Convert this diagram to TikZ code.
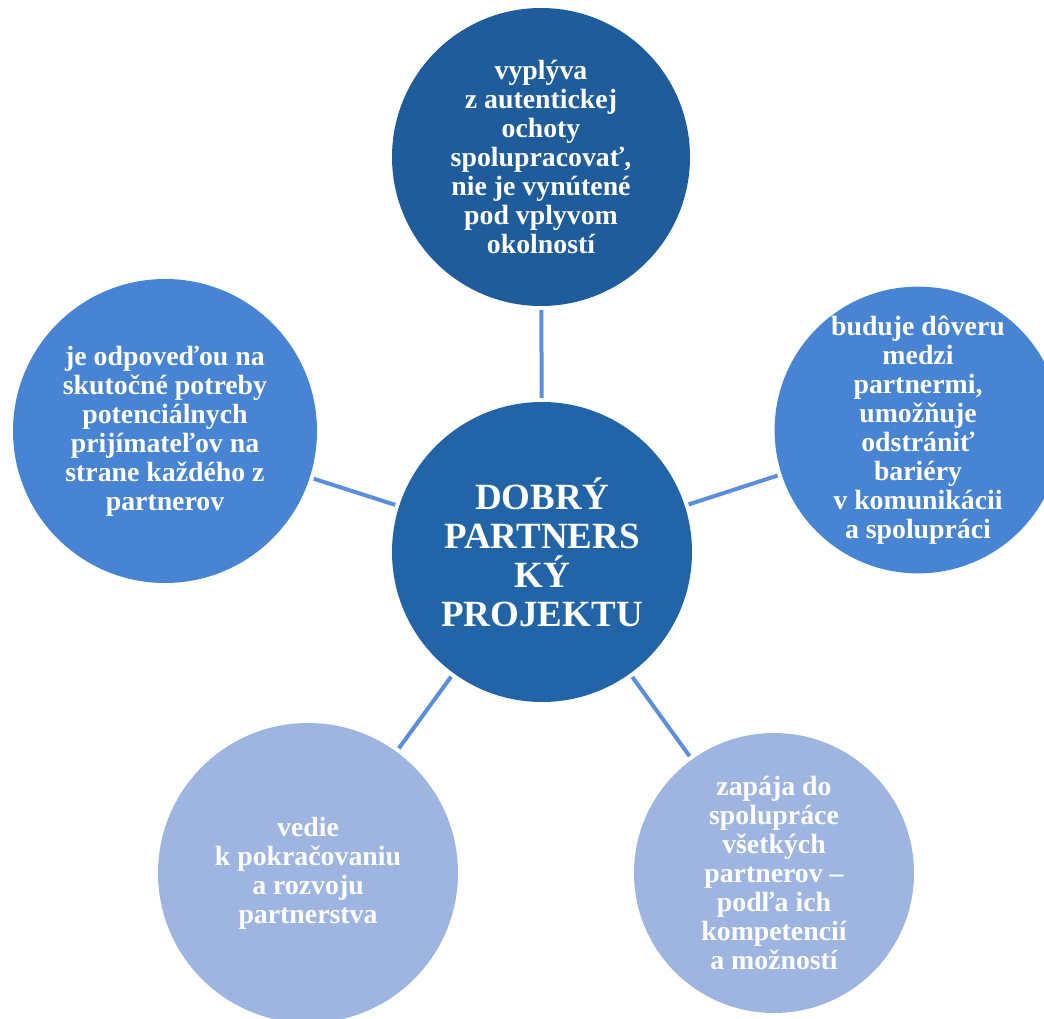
\documentclass[tikz,border=0pt]{standalone}
\usepackage{fontspec}
\setmainfont{Liberation Serif}
\definecolor{darkblue}{HTML}{1E5C9B}
\definecolor{midblue}{HTML}{2164A8}
\definecolor{brightblue}{HTML}{4884D4}
\definecolor{paleblue}{HTML}{9EB5E2}
\definecolor{linkblue}{HTML}{5B8FDB}
\tikzset{
  bubble/.style={circle, inner sep=0pt, text=white, align=center,
    font=\fontsize{27.8}{29}\selectfont\bfseries},
  link/.style={linkblue, line width=4pt, shorten <=4pt, shorten >=4pt}
}
\begin{document}
\begin{tikzpicture}[x=1pt,y=-1pt]
\clip (0,0) rectangle (1044,1019);
\useasboundingbox (0,0) rectangle (1044,1019);

\node[bubble, fill=midblue, minimum size=300pt, font=\fontsize{37}{39}\selectfont\bfseries] (projekt) at (542,552) {DOBRÝ\\PARTNERS\\KÝ\\PROJEKTU};

\node[bubble, fill=darkblue, minimum size=298pt] (ochota) at (541,157) {vyplýva\\z autentickej\\ochoty\\spolupracovať,\\nie je vynútené\\pod vplyvom\\okolností};
\node[bubble, fill=brightblue, minimum size=284pt] (dovera) at (918,430) {buduje dôveru\\medzi\\partnermi,\\umožňuje\\odstrániť\\bariéry\\v komunikácii\\a spolupráci};
\node[bubble, fill=brightblue, minimum size=304pt] (potreby) at (165,431) {je odpoveďou na\\skutočné potreby\\potenciálnych\\prijímateľov na\\strane každého z\\partnerov};
\node[bubble, fill=paleblue, minimum size=300pt] (rozvoj) at (308,873) {vedie\\k pokračovaniu\\a rozvoju\\partnerstva};
\node[bubble, fill=paleblue, minimum size=280pt] (zapojenie) at (774,873) {zapája do\\spolupráce\\všetkých\\partnerov –\\podľa ich\\kompetencií\\a možností};

\draw[link] (projekt) -- (ochota);
\draw[link] (projekt) -- (dovera);
\draw[link] (projekt) -- (potreby);
\draw[link] (projekt) -- (rozvoj);
\draw[link] (projekt) -- (zapojenie);
\end{tikzpicture}
\end{document}
